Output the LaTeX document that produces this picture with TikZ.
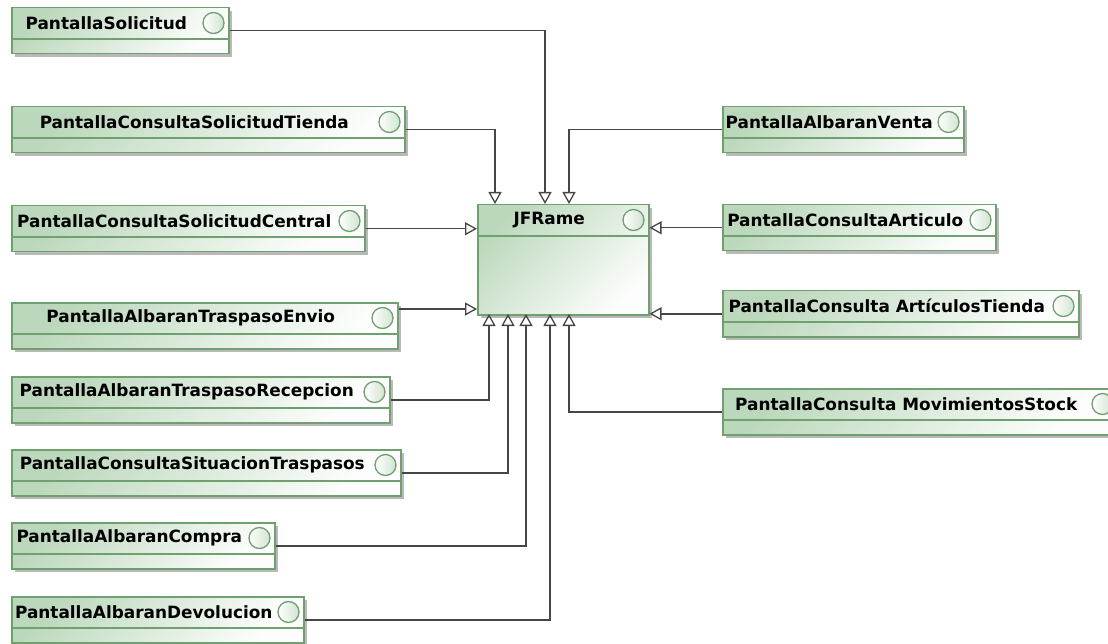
\documentclass[tikz,border=0pt]{standalone}
\usepackage{fontspec}
\setmainfont{DejaVu Sans}
\usetikzlibrary{arrows.meta,calc}
\definecolor{borde}{RGB}{112,160,112}
\definecolor{relleno}{RGB}{188,216,188}
\definecolor{sombra}{RGB}{185,185,185}
\definecolor{linea}{RGB}{70,70,70}
\tikzset{
  clase/.style={draw=borde, line width=1.5pt, rectangle, inner sep=0pt,
    anchor=north west, top color=relleno, bottom color=white!96!relleno, shading angle=45},
  nombre/.style={font=\fontsize{16.9}{18}\selectfont\bfseries, inner sep=0pt},
  herencia/.style={draw=linea, line width=1.5pt,
    -{Triangle[open,length=12pt,width=13pt,line width=1.3pt]}},
}
\newcommand{\clase}[6][46]{%
  \fill[sombra] (#3+4,#4+4) rectangle ++(#5,#1);
  \node[clase, minimum width=#5pt, minimum height=#1pt] (#2) at (#3,#4) {};
  \draw[borde, line width=1.5pt] ($(#2.north west)+(0,32)$) -- ($(#2.north east)+(0,32)$);
  \draw[borde, line width=1.3pt, left color=white, right color=relleno!70]
    ($(#2.north east)+(-16,16)$) circle (10.5pt);
  \node[nombre] at ($(#2.north)+(-14,16)$) {#6};
}
\begin{document}
\begin{tikzpicture}[x=1pt,y=-1pt]
\useasboundingbox (0,0) rectangle (1108,644);
\clase[110]{jf}{477}{204}{171}{JFRame}
\clase{solicitud}{11}{7}{217}{PantallaSolicitud}
\clase{tienda}{11}{106}{393}{PantallaConsultaSolicitudTienda}
\clase{central}{11}{205}{353}{PantallaConsultaSolicitudCentral}
\clase{envio}{11}{302}{386}{PantallaAlbaranTraspasoEnvio}
\clase{recepcion}{11}{376}{378}{PantallaAlbaranTraspasoRecepcion}
\clase{situacion}{11}{449}{389}{PantallaConsultaSituacionTraspasos}
\clase{compra}{11}{522}{263}{PantallaAlbaranCompra}
\clase{devolucion}{11}{596}{292}{PantallaAlbaranDevolucion}
\clase{venta}{722}{106}{241}{PantallaAlbaranVenta}
\clase{articulo}{722}{204}{273}{PantallaConsultaArticulo}
\clase{artTienda}{722}{290}{356}{PantallaConsulta ArtículosTienda}
\clase{movimientos}{722}{388}{395}{PantallaConsulta MovimientosStock}
\coordinate (top1) at (495,204);
\coordinate (top2) at (545,204);
\coordinate (top3) at (569,204);
\coordinate (izq2) at (477,309);
\coordinate (bot1) at (489,314);
\coordinate (bot2) at (508,314);
\coordinate (bot3) at (526,314);
\coordinate (bot4) at (550,314);
\coordinate (bot5) at (569,314);
\draw[herencia] (solicitud.east) -| (top2);
\draw[herencia] (tienda.east) -| (top1);
\draw[herencia] (central.east) -- (central.east -| jf.west);
\draw[herencia] (envio.east |- izq2) -- (izq2);
\draw[herencia] (recepcion.east) -| (bot1);
\draw[herencia] (situacion.east) -| (bot2);
\draw[herencia] (compra.east) -| (bot3);
\draw[herencia] (devolucion.east) -| (bot4);
\draw[herencia] (venta.west) -| (top3);
\draw[herencia] (articulo.west) -- (articulo.west -| jf.east);
\draw[herencia] (artTienda.west) -- (artTienda.west -| jf.east);
\draw[herencia] (movimientos.west) -| (bot5);
\end{tikzpicture}
\end{document}
